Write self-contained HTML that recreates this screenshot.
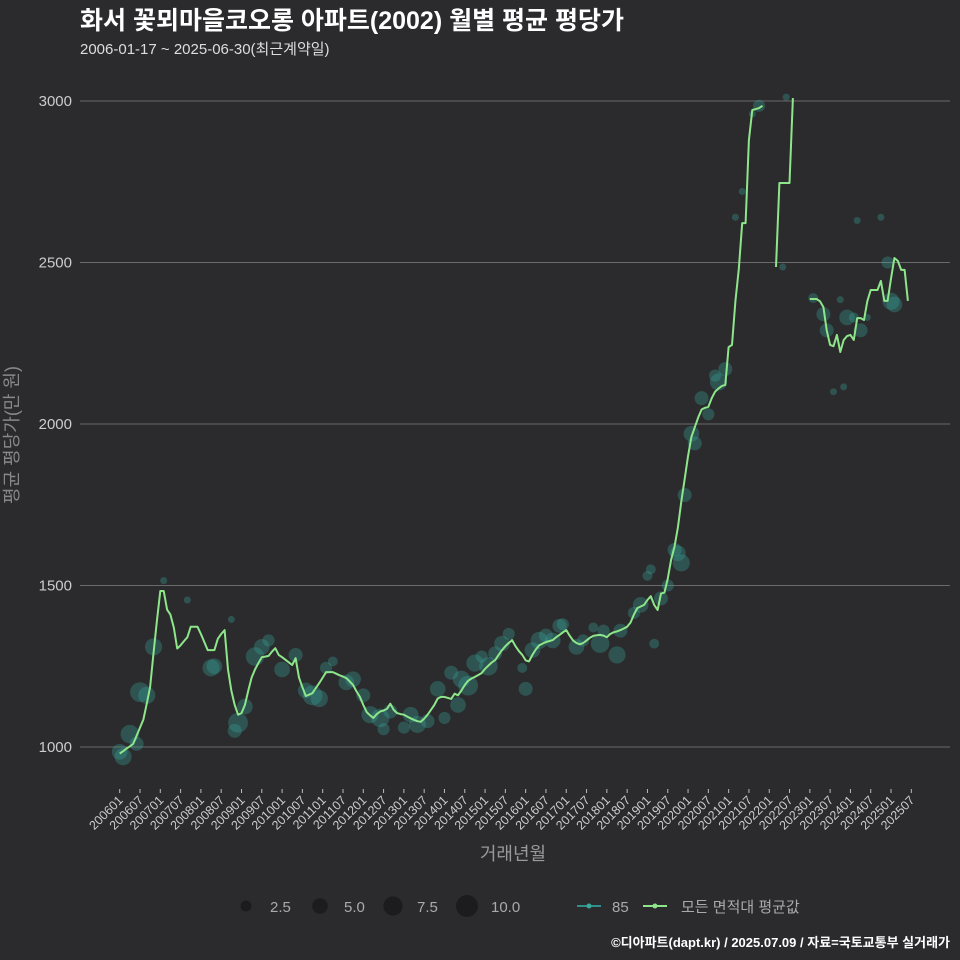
<!DOCTYPE html>
<html><head><meta charset="utf-8"><style>
html,body{margin:0;padding:0;background:#2b2b2d;}
svg{display:block;font-family:"Liberation Sans","Noto Sans CJK KR",sans-serif;}
</style></head><body>
<svg id="chart" width="960" height="960">
<rect width="960" height="960" fill="#2b2b2d"/>
<text x="80" y="29" fill="#fff" font-size="25" font-weight="bold">화서 꽃뫼마을코오롱 아파트(2002) 월별 평균 평당가</text>
<text x="80" y="54" fill="#ddd" font-size="15">2006-01-17 ~ 2025-06-30(최근계약일)</text>
<g id="grid"></g>
<g id="yticks"></g>
<g id="xticks"></g>
<g id="bubbles"></g>
<g id="lines"></g>
<text x="18" y="435" fill="#888" font-size="18" text-anchor="middle" transform="rotate(-90 18 435)">평균 평당가(만 원)</text>
<text x="513" y="860" fill="#999" font-size="18" text-anchor="middle">거래년월</text>
<g>
<circle cx="246" cy="906" r="5.5" fill="#1c1c1e"/>
<text x="270" y="912" fill="#aaa" font-size="15">2.5</text>
<circle cx="320" cy="906" r="7.8" fill="#1c1c1e"/>
<text x="344" y="912" fill="#aaa" font-size="15">5.0</text>
<circle cx="393" cy="906" r="9.6" fill="#1c1c1e"/>
<text x="417" y="912" fill="#aaa" font-size="15">7.5</text>
<circle cx="467" cy="906" r="11" fill="#1c1c1e"/>
<text x="491" y="912" fill="#aaa" font-size="15">10.0</text>
<line x1="577" y1="906" x2="601" y2="906" stroke="#2f8f8a" stroke-width="2"/>
<circle cx="589" cy="906" r="2.5" fill="#3aa89a"/>
<text x="612" y="912" fill="#aaa" font-size="15">85</text>
<line x1="643" y1="906" x2="667" y2="906" stroke="#8ee68a" stroke-width="2"/>
<circle cx="655" cy="906" r="2.5" fill="#8ee68a"/>
<text x="681" y="912" fill="#aaa" font-size="15">모든 면적대 평균값</text>
</g>
<text x="950" y="947" fill="#fff" font-size="13" font-weight="bold" text-anchor="end">©디아파트(dapt.kr) / 2025.07.09 / 자료=국토교통부 실거래가</text>
</svg>
<script>
const yTicks = [1000, 1500, 2000, 2500, 3000];
const xTickLabels = [];
for (let y = 2006; y <= 2025; y++) { xTickLabels.push(y + '01'); xTickLabels.push(y + '07'); }
const avgValues = [980,987,995,1002,1010,1035,1060,1085,1135,1185,1290,1390,1483,1483,1425,1410,1370,1305,1315,1328,
1340,1372,1372,1372,1350,1325,1300,1300,1300,1335,1350,1362,1240,1175,1130,1100,1105,1130,1175,1215,
1240,1260,1278,1280,1282,1295,1306,1285,1278,1270,1262,1254,1275,1215,1185,1158,1162,1167,1183,1198,
1215,1232,1232,1232,1227,1222,1218,1213,1203,1192,1172,1155,1130,1108,1098,1090,1102,1110,1113,1118,
1134,1115,1105,1102,1100,1094,1089,1084,1080,1078,1088,1100,1115,1130,1150,1155,1155,1152,1149,1165,
1160,1175,1192,1205,1212,1217,1223,1229,1242,1252,1262,1269,1285,1300,1312,1322,1331,1312,1297,1285,
1268,1265,1285,1302,1315,1320,1325,1328,1331,1340,1347,1355,1362,1345,1330,1322,1318,1322,1330,1338,
1344,1346,1347,1345,1340,1350,1355,1358,1362,1367,1372,1385,1410,1430,1435,1440,1455,1467,1440,1424,
1475,1478,1520,1580,1620,1680,1760,1830,1900,1960,1990,2020,2045,2050,2053,2080,2100,2110,2118,2121,
2238,2245,2380,2480,2622,2622,2879,2972,2975,2978,2985,null,null,null,2486,2746,2746,2746,2746,3009,
null,null,null,null,2387,2387,2387,2380,2362,2290,2245,2241,2276,2223,2260,2272,2276,2260,2328,2328,
2322,2380,2415,2415,2415,2443,2381,2381,2450,2514,2505,2477,2477,2381];
const bubbleMonths = [0,1,3,5,6,8,10,13,20,27,28,33,34,35,37,40,42,44,48,52,55,57,59,61,63,67,69,72,74,77,78,80,
84,86,88,91,94,96,98,100,101,103,105,107,109,111,113,115,119,120,122,124,126,128,130,131,135,137,140,142,143,147,148,
152,154,156,157,158,160,162,164,165,166,167,169,170,172,174,176,177,179,182,184,187,189,196,197,
205,208,209,211,213,214,215,217,218,219,221,225,227,228,229];
const bubbleValues = [985,970,1040,1010,1170,1160,1310,1515,1455,1245,1250,1395,1050,1075,1125,1280,1310,1330,1240,1285,1175,1160,1150,1245,1265,1200,1210,1160,1100,1090,1055,1110,
1060,1100,1070,1080,1180,1090,1230,1130,1210,1190,1260,1280,1250,1290,1320,1350,1245,1180,1300,1330,1345,1330,1375,1380,1310,1330,1370,1320,1360,1285,1360,
1415,1440,1530,1550,1320,1460,1500,1610,1600,1570,1780,1970,1940,2080,2030,2150,2130,2170,2640,2720,2960,2985,2486,3012,
2390,2340,2290,2100,2385,2115,2330,2330,2630,2290,2330,2640,2500,2380,2370];
const bubbleCounts = [5,6,7,4,8,6,6,1,1,6,5,1,4,8,5,7,5,3,5,4,5,8,6,3,2,5,5,4,6,7,3,4,
3,5,6,4,5,3,4,5,6,8,6,3,7,4,5,3,2,4,5,6,4,5,4,3,5,3,2,7,3,6,4,
3,5,2,2,2,4,3,4,5,6,4,5,4,4,3,3,6,4,1,1,1,3,1,1,
2,4,4,1,1,1,5,2,1,4,1,1,3,6,5];

const NS = 'http://www.w3.org/2000/svg';
const X0 = 119.7, MX = 3.383, PL = 80, PR = 950;
function xScale(m) { return X0 + m * MX; }
function yScale(v) { return 747 - (v - 1000) * 0.3230; }
function rScale(n) { return 3.5 * Math.sqrt(n); }
function mk(tag, attrs, parent) {
  const el = document.createElementNS(NS, tag);
  for (const k in attrs) el.setAttribute(k, attrs[k]);
  parent.appendChild(el);
  return el;
}
const grid = document.getElementById('grid');
const yt = document.getElementById('yticks');
yTicks.forEach(v => {
  const ln = mk('line', {x1: PL, x2: PR, y1: yScale(v), y2: yScale(v), stroke: '#6a6a6c', 'stroke-width': 1}, grid);
  
  
  const t = mk('text', {x: 72, y: yScale(v) + 5, fill: '#ccc', 'font-size': 15, 'text-anchor': 'end'}, yt);
  t.textContent = v;
  
  
});
const xt = document.getElementById('xticks');
xTickLabels.forEach((lab, i) => {
  const x = xScale(i * 6);
  const tk = mk('line', {x1: x, x2: x, y1: 789, y2: 793, stroke: '#bbb', 'stroke-width': 1}, xt);
  
  
  const t = mk('text', {x: x + 4, y: 801, fill: '#ccc', 'font-size': 12.5, 'text-anchor': 'end', transform: 'rotate(-45 ' + (x + 4) + ' 801)'}, xt);
  t.textContent = lab;
  
  
});
const bg = document.getElementById('bubbles');
bubbleMonths.forEach((m, i) => {
  const c = mk('circle', {cx: xScale(m), cy: yScale(bubbleValues[i]), r: rScale(bubbleCounts[i]), fill: '#3aa89a', 'fill-opacity': 0.33}, bg);
  
  
});
const lg = document.getElementById('lines');
let seg = [];
function flush() {
  if (seg.length > 1) {
    const p = mk('polyline', {points: seg.join(' '), fill: 'none', stroke: '#8ee68a', 'stroke-width': 2, 'stroke-linejoin': 'round'}, lg);
    
    
  }
  seg = [];
}
avgValues.forEach((v, m) => {
  if (v === null) { flush(); return; }
  seg.push(xScale(m).toFixed(1) + ',' + yScale(v).toFixed(1));
});
flush();
</script>
</body></html>
